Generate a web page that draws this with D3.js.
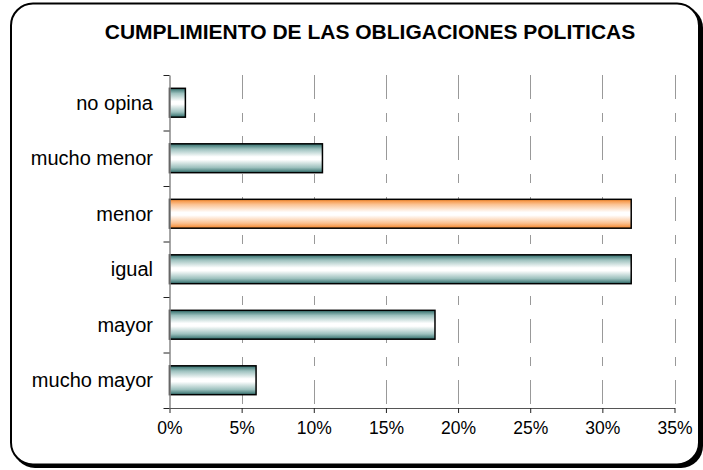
<html>
<head>
<script src="https://d3js.org/d3.v7.min.js"></script>
<style>
  body { margin: 0; background: #fff; }
  text { font-family: "Liberation Sans", Arial, sans-serif; }
</style>
</head>
<body>
<svg width="703" height="470"></svg>
<script>
const categories = ['no opina', 'mucho menor', 'menor', 'igual', 'mayor', 'mucho mayor'];
const values = [0.011, 0.106, 0.32, 0.32, 0.184, 0.06];
const highlighted = ['menor'];
const tickValues = [0, 0.05, 0.10, 0.15, 0.20, 0.25, 0.30, 0.35];
const title = 'CUMPLIMIENTO DE LAS OBLIGACIONES POLITICAS';

const svg = d3.select('svg');
const data = categories.map((c, i) => ({ cat: c, val: values[i] }));

const plot = { left: 169.5, right: 674.5, top: 75, bottom: 408 };

// gradients
const defs = svg.append('defs');
function grad(id, edge, mid) {
    const g = defs.append('linearGradient').attr('id', id)
        .attr('x1', 0).attr('y1', 0).attr('x2', 0).attr('y2', 1);
    [[0, edge], [0.18, mid], [0.45, '#ffffff'], [0.55, '#ffffff'], [0.82, mid], [1, edge]]
        .forEach(s => g.append('stop').attr('offset', s[0]).attr('stop-color', s[1]));
}
grad('teal', '#2f6b69', '#9dc1be');
grad('orange', '#f5862a', '#fbc394');

// frame with shadow
svg.append('rect').attr('x', 13).attr('y', 6).attr('width', 690).attr('height', 462)
    .attr('rx', 22).attr('fill', '#000');
svg.append('rect').attr('x', 11).attr('y', 3.5).attr('width', 688).attr('height', 461)
    .attr('rx', 22).attr('fill', '#fff').attr('stroke', '#000').attr('stroke-width', 2);

svg.append('text').attr('x', 370).attr('y', 39)
    .attr('text-anchor', 'middle').attr('font-weight', 'bold').attr('font-size', 21)
    .text(title);

const x = d3.scaleLinear().domain([0, 0.35]).range([plot.left, plot.right]);
const y = d3.scaleBand().domain(categories).range([plot.top, plot.bottom])
    .paddingInner(0.48).paddingOuter(0.24);

// gridlines
svg.append('g').selectAll('line').data(tickValues.slice(1)).join('line')
    .attr('x1', d => Math.round(x(d)) + 0.5).attr('x2', d => Math.round(x(d)) + 0.5)
    .attr('y1', plot.top).attr('y2', plot.bottom)
    .attr('stroke', '#999').attr('stroke-width', 1)
    .attr('stroke-dasharray', '24,14,9,14');

// bars
svg.append('g').selectAll('rect').data(data).join('rect')
    .attr('x', x(0)).attr('y', d => y(d.cat))
    .attr('width', d => x(d.val) - x(0)).attr('height', y.bandwidth())
    .attr('fill', d => highlighted.includes(d.cat) ? 'url(#orange)' : 'url(#teal)')
    .attr('stroke', '#000').attr('stroke-width', 1.5);

// x axis
const xAxis = svg.append('g').attr('transform', `translate(0,${plot.bottom})`)
    .call(d3.axisBottom(x).tickValues(tickValues).tickFormat(d3.format('.0%'))
        .tickSize(5).tickSizeOuter(0).tickPadding(9));
xAxis.select('.domain').attr('stroke', '#555');
xAxis.selectAll('.tick line').attr('stroke', '#222');
xAxis.selectAll('text').attr('font-size', 17.5).attr('fill', '#000')
    .attr('font-family', '"Liberation Sans", Arial, sans-serif');

// y axis: ticks between categories, labels at band centres
const yEdges = d3.scaleLinear().domain([0, categories.length]).range([plot.top, plot.bottom]);
const yAxis = svg.append('g').attr('transform', `translate(${plot.left},0)`)
    .call(d3.axisLeft(yEdges).ticks(categories.length).tickFormat('').tickSize(6).tickSizeOuter(0));
yAxis.select('.domain').attr('stroke', '#888').attr('stroke-width', 1.5);
yAxis.selectAll('.tick line').attr('stroke', '#222');

svg.append('g').selectAll('text').data(categories).join('text')
    .attr('x', 153).attr('y', d => y(d) + y.bandwidth() / 2)
    .attr('dy', '0.35em').attr('text-anchor', 'end').attr('font-size', 20)
    .text(d => d);
</script>
</body>
</html>
